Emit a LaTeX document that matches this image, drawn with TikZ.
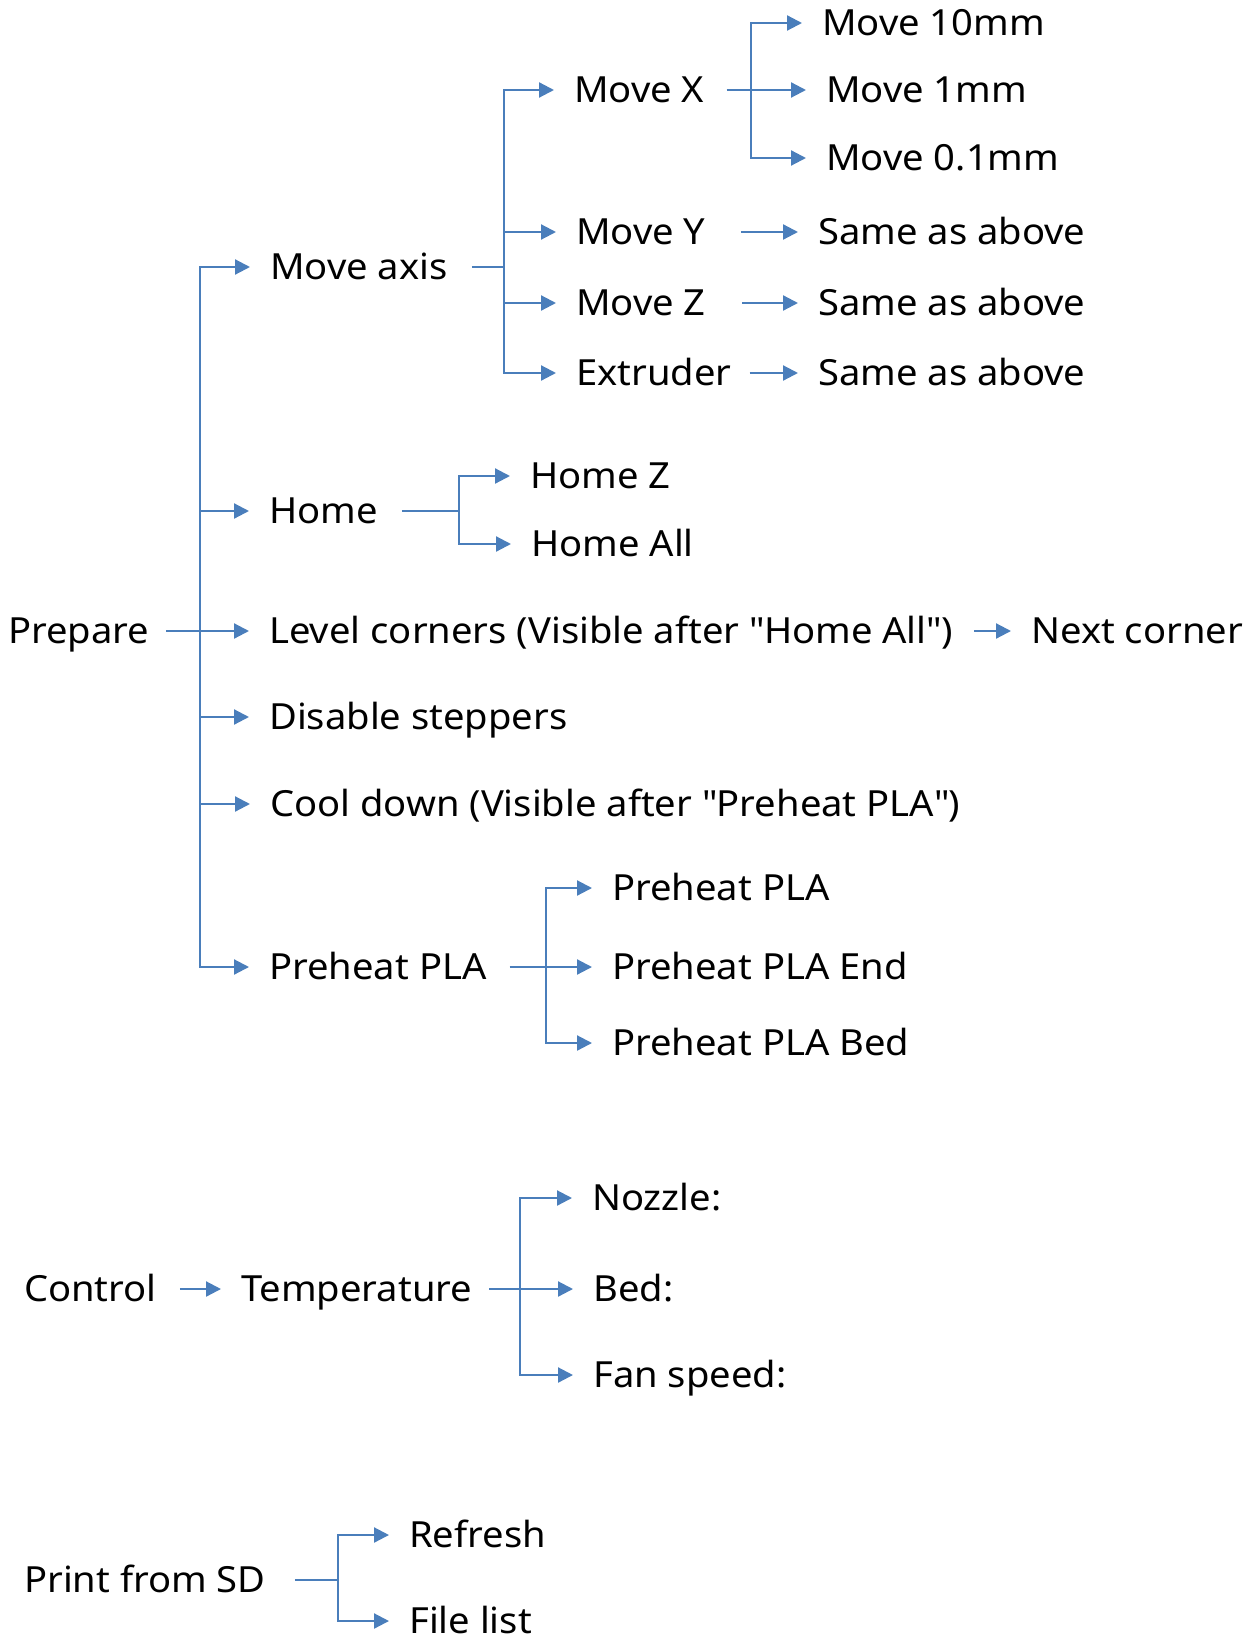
\documentclass[tikz,border=0pt]{standalone}
\usepackage{fontspec}
\setmainfont{Noto Sans}[FakeStretch=1.06]
\usetikzlibrary{arrows.meta}
\definecolor{linkblue}{HTML}{4A7EBB}
\tikzset{
  item/.style={anchor=west, inner sep=0pt, text height=34.2pt, text depth=8.5pt,
    font=\fontsize{36}{43}\selectfont},
  link/.style={draw=linkblue, line width=2.2pt},
  arr/.style={link, -{Triangle[length=15pt,width=15pt]}, shorten >=20pt},
}
\begin{document}
\begin{tikzpicture}[x=1pt,y=-1pt]
  \useasboundingbox (0,0) rectangle (1252,1637);

  %%%%% PREPARE %%%%%
  \node[item] (prep)    at (8,631)    {Prepare};
  \node[item] (mvaxis)  at (270,267)  {Move axis};
  \node[item] (mvx)     at (574,90)   {Move X};
  \node[item] (mv10)    at (822,23)   {Move 10mm};
  \node[item] (mv1)     at (826,90)   {Move 1mm};
  \node[item] (mv01)    at (826,158)  {Move 0.1mm};
  \node[item] (mvy)     at (576,232)  {Move Y};
  \node[item] (samey)   at (818,232)  {Same as above};
  \node[item] (mvz)     at (576,303)  {Move Z};
  \node[item] (samez)   at (818,303)  {Same as above};
  \node[item] (extr)    at (576,373)  {Extruder};
  \node[item] (samee)   at (818,373)  {Same as above};
  \node[item] (home)    at (269,511)  {Home};
  \node[item] (homez)   at (530,476)  {Home Z};
  \node[item] (homeall) at (531,544)  {Home All};
  \node[item] (level)   at (269,631)  {Level corners (Visible after \textquotedbl Home All\textquotedbl)};
  \node[item] (nextc)   at (1031,631) {Next corner};
  \node[item] (disable) at (269,717)  {Disable steppers};
  \node[item] (cool)    at (270,804)  {Cool down (Visible after \textquotedbl Preheat PLA\textquotedbl)};
  \node[item] (preheat) at (269,967)  {Preheat PLA};
  \node[item] (ph1)     at (612,888)  {Preheat PLA};
  \node[item] (phend)   at (612,967)  {Preheat PLA End};
  \node[item] (phbed)   at (612,1043) {Preheat PLA Bed};

  \coordinate (jprep) at (200,631);
  \coordinate (jaxis) at (504,267);
  \coordinate (jx)    at (751,90);
  \coordinate (jhome) at (459,511);
  \coordinate (jph)   at (546,967);

  \draw[arr] ([xshift=17]prep.east) -- (level.west);
  \foreach \n in {mvaxis,home,disable,cool,preheat}
    \draw[arr] (jprep) |- (\n.west);

  \draw[link] ([xshift=24]mvaxis.east) -- (jaxis);
  \foreach \n in {mvx,mvy,mvz,extr}
    \draw[arr] (jaxis) |- (\n.west);

  \draw[arr] ([xshift=22]mvx.east) -- (mv1.west);
  \foreach \n in {mv10,mv01}
    \draw[arr] (jx) |- (\n.west);

  \draw[arr] ([xshift=35]mvy.east) -- (samey.west);
  \draw[arr] ([xshift=36]mvz.east) -- (samez.west);
  \draw[arr] ([xshift=18]extr.east) -- (samee.west);

  \draw[link] ([xshift=24]home.east) -- (jhome);
  \foreach \n in {homez,homeall}
    \draw[arr] (jhome) |- (\n.west);

  \draw[arr] ([xshift=21]level.east) -- (nextc.west);

  \draw[arr] ([xshift=23]preheat.east) -- (phend.west);
  \foreach \n in {ph1,phbed}
    \draw[arr] (jph) |- (\n.west);

  %%%%% CONTROL %%%%%
  \node[item] (ctrl)   at (24,1289)  {Control};
  \node[item] (temp)   at (241,1289) {Temperature};
  \node[item] (nozzle) at (592,1198) {Nozzle:};
  \node[item] (bed)    at (593,1289) {Bed:};
  \node[item] (fan)    at (593,1375) {Fan speed:};

  \coordinate (jtemp) at (520,1289);

  \draw[arr] ([xshift=23]ctrl.east) -- (temp.west);
  \draw[arr] ([xshift=17]temp.east) -- (bed.west);
  \foreach \n in {nozzle,fan}
    \draw[arr] (jtemp) |- (\n.west);

  %%%%% PRINT FROM SD %%%%%
  \node[item] (psd)     at (24,1580)  {Print from SD};
  \node[item] (refresh) at (409,1535) {Refresh};
  \node[item] (flist)   at (409,1621) {File list};

  \coordinate (jsd) at (338,1580);

  \draw[link] ([xshift=29]psd.east) -- (jsd);
  \foreach \n in {refresh,flist}
    \draw[arr] (jsd) |- (\n.west);
\end{tikzpicture}
\end{document}
